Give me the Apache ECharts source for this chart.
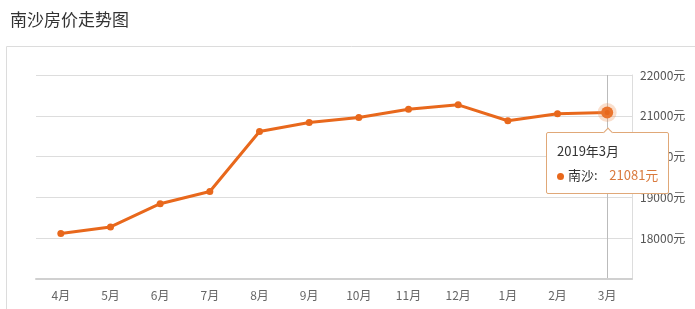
<!DOCTYPE html>
<html><head><meta charset="utf-8">
<script src="https://cdn.jsdelivr.net/npm/echarts@6/dist/echarts.min.js"></script>
<style>html,body{margin:0;padding:0;background:#fff;}#c{width:695px;height:309px;}</style>
</head><body><div id="c"></div>
<script>
const titleText = '南沙房价走势图';
const months = ['4月','5月','6月','7月','8月','9月','10月','11月','12月','1月','2月','3月'];
const periods = ['2018年4月','2018年5月','2018年6月','2018年7月','2018年8月','2018年9月','2018年10月','2018年11月','2018年12月','2019年1月','2019年2月','2019年3月'];
const prices = [18115, 18276, 18846, 19146, 20617, 20837, 20959, 21163, 21268, 20878, 21050, 21081];
const seriesName = '南沙';
const unit = '元';
const yTicks = [17000, 22000, 1000];

const color = '#e8681c';
const chart = echarts.init(document.getElementById('c'), null, {renderer:'canvas'});
const last = prices.length - 1;
chart.setOption({
  animation:false,
  title:{text:titleText, left:5, top:6, textStyle:{fontSize:17, fontWeight:'normal', color:'#333', fontFamily:'Noto Sans CJK SC'}},
  graphic:[{type:'rect', shape:{x:6.5, y:46.5, width:720, height:300}, style:{fill:'none', stroke:'#dcdcdc', lineWidth:1}, silent:true, z:-10}],
  grid:{left:36, right:63, top:75, bottom:30},
  tooltip:{trigger:'item', position:'bottom', alwaysShowContent:true, triggerOn:'none',
    backgroundColor:'#fff', borderColor:'#e0a878', borderWidth:1, padding:[7,10,5,10],
    extraCssText:'box-shadow:none;border-radius:2px;',
    textStyle:{fontSize:12, color:'#333', fontFamily:'Noto Sans CJK SC'},
    formatter:function(p){
      return '<div style="line-height:22px;font-size:13px;color:#333">'+periods[p.dataIndex]+'</div>'+
        '<div style="line-height:26px;font-size:13px;color:#333"><span style="display:inline-block;width:7px;height:7px;border-radius:50%;background:'+color+';margin-right:4px;vertical-align:middle"></span>'+p.seriesName+':&nbsp;&nbsp;&nbsp;&nbsp;<span style="color:#d97a3e">'+p.value+unit+'</span></div>';
    }},
  xAxis:{type:'category', data:months, boundaryGap:true,
    axisLine:{lineStyle:{color:'#d0d0d0', width:2}},
    axisTick:{alignWithLabel:true, length:4, lineStyle:{color:'#ccc'}},
    axisLabel:{color:'#666', fontSize:12, margin:10, fontFamily:'Noto Sans CJK SC'},
    axisPointer:{show:true, z:0, value:months[last], status:'show', type:'line', label:{show:false}, lineStyle:{color:'#bbb', width:1, type:'solid'}, triggerTooltip:false}},
  yAxis:{type:'value', position:'right', min:yTicks[0], max:yTicks[1], interval:yTicks[2],
    axisLine:{show:true, lineStyle:{color:'#ddd'}}, axisTick:{show:false},
    splitLine:{lineStyle:{color:'#ddd'}},
    axisLabel:{color:'#555', fontSize:12, margin:8, fontFamily:'Noto Sans CJK SC',
      formatter:function(v){return v===yTicks[0]?'':v+unit;}}},
  series:[{name:seriesName, type:'line', z:5, data:prices.map(function(v,i){
      return i===last ? {value:v, symbolSize:12, itemStyle:{borderColor:'rgba(240,150,90,0.3)', borderWidth:7}} : v;}),
    symbol:'circle', symbolSize:7, showSymbol:true,
    lineStyle:{color:color, width:3}, itemStyle:{color:color},
    emphasis:{disabled:true}}]
});
chart.dispatchAction({type:'showTip', seriesIndex:0, dataIndex:last});
</script></body></html>
